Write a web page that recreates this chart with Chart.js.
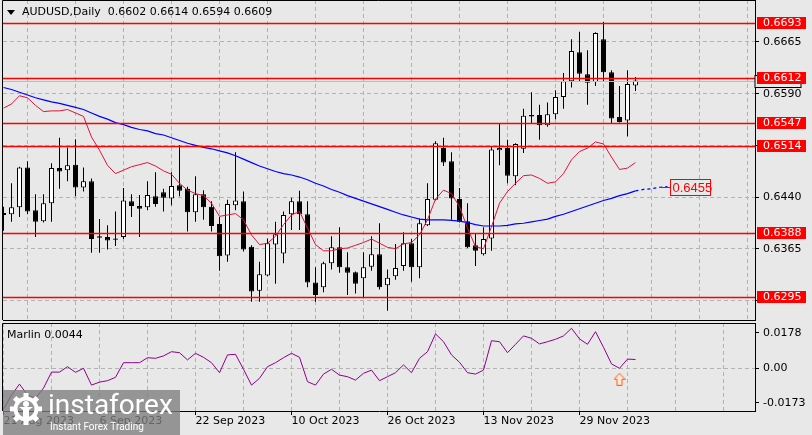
<!DOCTYPE html>
<html>
<head>
<meta charset="utf-8">
<script src="https://cdn.jsdelivr.net/npm/chart.js@4.4.0/dist/chart.umd.min.js"></script>
<style>
  html, body { margin: 0; padding: 0; background: #e8e8e8; }
  #wrap { position: relative; width: 812px; height: 435px; overflow: hidden; background: #e8e8e8; font-family: "DejaVu Sans", sans-serif; }
  #main { position: absolute; left: 0; top: 0; }
  #ind { position: absolute; left: 0; top: 321px; }
  #title { position: absolute; left: 22px; top: 5px; font-size: 11px; color: #000; white-space: pre; }
  #tri { position: absolute; left: 7px; top: 10px; width: 0; height: 0; border-left: 4px solid transparent; border-right: 4px solid transparent; border-top: 5px solid #000; }
  #marlin { position: absolute; left: 7px; top: 328px; font-size: 11px; color: #000; }
  #logo { position: absolute; left: 3px; top: 390px; width: 177px; height: 45px; background: rgba(125,125,125,0.78); }
  #logo svg { position: absolute; left: 3px; top: 2px; }
  #logo .brand { position: absolute; left: 45px; top: -2px; font-family: Roboto, sans-serif; font-size: 28px; color: #fff; }
  #logo .tag { position: absolute; left: 47px; top: 31px; font-family: Roboto, sans-serif; font-size: 10px; color: #fff; }
</style>
</head>
<body>
<div id="wrap">
  <canvas id="main" width="812" height="321"></canvas>
  <canvas id="ind" width="812" height="114"></canvas>
  <div id="tri"></div>
  <div id="title">AUDUSD,Daily  0.6602 0.6614 0.6594 0.6609</div>
  <div id="marlin">Marlin 0.0044</div>
  <div id="logo">
    <svg width="40" height="34" viewBox="0 0 40 34">
      <g fill="#fff" transform="translate(20 17)">
        <rect x="-2.5" y="-16" width="5" height="6"/>
        <rect x="-2.5" y="-16" width="5" height="6" transform="rotate(45)"/>
        <rect x="-2.5" y="-16" width="5" height="6" transform="rotate(90)"/>
        <rect x="-2.5" y="-16" width="5" height="6" transform="rotate(135)"/>
        <rect x="-2.5" y="-16" width="5" height="6" transform="rotate(180)"/>
        <rect x="-2.5" y="-16" width="5" height="6" transform="rotate(225)"/>
        <rect x="-2.5" y="-16" width="5" height="6" transform="rotate(270)"/>
        <rect x="-2.5" y="-16" width="5" height="6" transform="rotate(315)"/>
      </g>
      <circle cx="20" cy="17" r="10.5" fill="none" stroke="#fff" stroke-width="4"/>
      <circle cx="20" cy="12" r="3" fill="#fff"/>
      <path d="M13 15 L27 15 L23 18 L23 27 L17 27 L17 18 Z" fill="#fff"/>
    </svg>
    <span class="brand">instaforex</span>
    <span class="tag">Instant Forex Trading</span>
  </div>
</div>
<script>
// daily candles, 21 Aug 2023 .. 8 Dec 2023
const opens  = [0.6414,0.6415,0.6425,0.6483,0.6421,0.6405,0.6431,0.6482,0.6479,0.6487,
                0.6454,0.6463,0.6383,0.6382,0.6380,0.6382,0.6434,0.6427,0.6425,0.6441,
                0.6447,0.6438,0.6457,0.6452,0.6418,0.6444,0.6426,0.6401,0.6355,0.6428,
                0.6434,0.6368,0.6304,0.6326,0.6371,0.6358,0.6415,0.6434,0.6415,0.6316,
                0.6309,0.6344,0.6367,0.6338,0.6331,0.6322,0.6339,0.6357,0.6312,0.6325,
                0.6340,0.6373,0.6338,0.6399,0.6436,0.6511,0.6492,0.6437,0.6405,0.6370,
                0.6357,0.6380,0.6508,0.6511,0.6470,0.6510,0.6559,0.6559,0.6544,0.6560,
                0.6585,0.6608,0.6650,0.6618,0.6607,0.6669,0.6621,0.6556,0.6551,0.6602];
const highs  = [0.6426,0.6460,0.6484,0.6492,0.6444,0.6444,0.6489,0.6526,0.6512,0.6524,
                0.6483,0.6467,0.6408,0.6399,0.6419,0.6453,0.6444,0.6443,0.6463,0.6476,
                0.6452,0.6476,0.6515,0.6455,0.6470,0.6450,0.6434,0.6411,0.6436,0.6505,
                0.6448,0.6370,0.6346,0.6380,0.6404,0.6419,0.6439,0.6449,0.6434,0.6338,
                0.6346,0.6383,0.6396,0.6360,0.6332,0.6360,0.6383,0.6402,0.6335,0.6372,
                0.6389,0.6379,0.6409,0.6460,0.6521,0.6526,0.6505,0.6453,0.6431,0.6387,
                0.6396,0.6514,0.6546,0.6523,0.6518,0.6568,0.6592,0.6574,0.6577,0.6595,
                0.6620,0.6669,0.6680,0.6653,0.6679,0.6694,0.6624,0.6601,0.6624,0.6614];
const lows   = [0.6391,0.6404,0.6411,0.6415,0.6382,0.6403,0.6404,0.6452,0.6463,0.6441,
                0.6448,0.6359,0.6359,0.6364,0.6369,0.6379,0.6411,0.6382,0.6421,0.6426,
                0.6419,0.6428,0.6441,0.6390,0.6404,0.6407,0.6390,0.6333,0.6346,0.6421,
                0.6361,0.6288,0.6288,0.6325,0.6314,0.6344,0.6392,0.6392,0.6309,0.6288,
                0.6302,0.6335,0.6330,0.6298,0.6300,0.6293,0.6333,0.6306,0.6275,0.6320,
                0.6333,0.6317,0.6322,0.6398,0.6435,0.6485,0.6407,0.6403,0.6366,0.6340,
                0.6355,0.6362,0.6486,0.6460,0.6457,0.6504,0.6546,0.6523,0.6542,0.6553,
                0.6568,0.6599,0.6607,0.6574,0.6601,0.6607,0.6547,0.6548,0.6528,0.6594];
const closes = [0.6417,0.6425,0.6483,0.6419,0.6404,0.6431,0.6482,0.6477,0.6486,0.6454,
                0.6463,0.6379,0.6381,0.6377,0.6378,0.6435,0.6427,0.6423,0.6443,0.6430,
                0.6439,0.6456,0.6449,0.6418,0.6444,0.6425,0.6398,0.6354,0.6430,0.6435,
                0.6364,0.6303,0.6328,0.6373,0.6386,0.6414,0.6434,0.6415,0.6316,0.6298,
                0.6344,0.6367,0.6338,0.6330,0.6314,0.6338,0.6357,0.6309,0.6323,0.6337,
                0.6373,0.6338,0.6402,0.6437,0.6518,0.6490,0.6438,0.6404,0.6367,0.6362,
                0.6379,0.6509,0.6511,0.6471,0.6517,0.6558,0.6557,0.6544,0.6560,0.6585,
                0.6608,0.6652,0.6619,0.6606,0.6678,0.6621,0.6554,0.6549,0.6604,0.6609];

// red and blue moving averages
const maFast = [0.6569,0.6575,0.6587,0.6584,0.6573,0.6564,0.6565,0.6565,0.6567,0.6562,
                0.6557,0.6527,0.6508,0.6486,0.6474,0.6479,0.6484,0.6487,0.6490,0.6485,
                0.6478,0.6473,0.6460,0.6450,0.6445,0.6442,0.6431,0.6412,0.6414,0.6416,
                0.6407,0.6385,0.6371,0.6373,0.6383,0.6400,0.6414,0.6419,0.6395,0.6371,
                0.6362,0.6362,0.6365,0.6366,0.6370,0.6374,0.6379,0.6373,0.6367,0.6365,
                0.6372,0.6374,0.6385,0.6407,0.6437,0.6450,0.6445,0.6426,0.6395,0.6368,
                0.6365,0.6397,0.6431,0.6448,0.6460,0.6471,0.6472,0.6467,0.6460,0.6462,
                0.6474,0.6494,0.6506,0.6511,0.6520,0.6517,0.6498,0.6480,0.6482,0.6490];
const maSlow = [0.6599,0.6596,0.6592,0.6588,0.6584,0.6581,0.6578,0.6576,0.6573,0.6570,
                0.6567,0.6562,0.6557,0.6553,0.6548,0.6545,0.6541,0.6538,0.6536,0.6532,
                0.6530,0.6526,0.6522,0.6518,0.6515,0.6512,0.6510,0.6507,0.6504,0.6500,
                0.6495,0.6490,0.6485,0.6481,0.6477,0.6474,0.6472,0.6469,0.6465,0.6460,
                0.6456,0.6451,0.6447,0.6442,0.6438,0.6434,0.6430,0.6426,0.6422,0.6418,
                0.6414,0.6411,0.6408,0.6407,0.6407,0.6407,0.6406,0.6405,0.6403,0.6400,
                0.6398,0.6398,0.6398,0.6399,0.6401,0.6402,0.6404,0.6406,0.6408,0.6412,
                0.6415,0.6419,0.6423,0.6427,0.6431,0.6435,0.6438,0.6442,0.6445,0.6449];
const maSlowProj = [0.6449,0.6451,0.6452,0.6454,0.6455];
const projLabel = 0.6455;

// Marlin oscillator
const marlin = [-0.0204,-0.0134,-0.0079,-0.0134,-0.0149,-0.0099,-0.0019,-0.0019,0.0008,-0.0020,
                 0.0000,-0.0084,-0.0069,-0.0062,-0.0045,0.0028,0.0028,0.0028,0.0053,0.0050,
                 0.0062,0.0083,0.0078,0.0042,0.0075,0.0055,0.0028,-0.0022,0.0067,0.0070,
                -0.0005,-0.0084,-0.0050,0.0008,0.0028,0.0053,0.0075,0.0055,-0.0067,-0.0084,
                -0.0029,-0.0005,-0.0034,-0.0042,-0.0059,-0.0025,-0.0009,-0.0062,-0.0042,-0.0022,
                 0.0017,-0.0022,0.0050,0.0083,0.0172,0.0133,0.0067,0.0030,-0.0022,-0.0029,
                -0.0009,0.0138,0.0133,0.0078,0.0120,0.0162,0.0150,0.0122,0.0133,0.0145,
                 0.0162,0.0200,0.0147,0.0120,0.0183,0.0105,0.0022,0.0000,0.0046,0.0044];
const signalBar = 77;
const signalValue = -0.0055;

const priceTicks = [0.6665, 0.6590, 0.6515, 0.6440, 0.6365, 0.6290];
const levels = [0.6693, 0.6612, 0.6547, 0.6514, 0.6388, 0.6295];
const lastPrice = 0.6609;
const marlinTicks = [0.0178, 0, -0.0173];
const dateLabels = ['21 Aug 2023', '6 Sep 2023', '22 Sep 2023', '10 Oct 2023', '26 Oct 2023', '13 Nov 2023', '29 Nov 2023'];

const xMin = -0.0625, xMax = 93.9375;   // 8 px per bar
const gridBars = [];
for (let b = 0; b <= 90; b += 6) gridBars.push(b);
const idx = opens.map((_, i) => i);
const FONT = { family: 'DejaVu Sans', size: 11 };
const GRID = '#b3b3b3';

Chart.defaults.font.family = 'DejaVu Sans';

function hline(ctx, x1, x2, y) {
    ctx.beginPath();
    ctx.moveTo(x1, y);
    ctx.lineTo(x2, y);
    ctx.stroke();
}

// y axis on the right with fixed width and no extra padding
function fixY(s) {
    s.width = 57;
    s.paddingTop = 0;
    s.paddingBottom = 0;
}

// left / top frame of a pane
const frame = {
    id: 'frame',
    afterDraw(chart) {
        const { ctx, chartArea: a } = chart;
        ctx.save();
        ctx.strokeStyle = '#000';
        ctx.lineWidth = 1;
        ctx.beginPath();
        ctx.moveTo(a.left - 0.5, a.bottom);
        ctx.lineTo(a.left - 0.5, a.top + 0.5);
        ctx.lineTo(a.right, a.top + 0.5);
        ctx.stroke();
        ctx.restore();
    }
};

const priceOverlay = {
    id: 'priceOverlay',
    afterDatasetsDraw(chart) {
        const { ctx, chartArea: a, scales: { x, y } } = chart;
        ctx.save();
        ctx.lineWidth = 1;
        ctx.strokeStyle = '#bdbdbd';
        hline(ctx, a.left, a.right, Math.round(y.getPixelForValue(lastPrice)) + 0.5);
        ctx.strokeStyle = '#ff0000';
        ctx.lineWidth = 1.3;
        levels.forEach(v => hline(ctx, a.left, a.right, Math.round(y.getPixelForValue(v)) + 0.5));

        // projected value label of the blue line
        ctx.lineWidth = 1;
        const py = Math.round(y.getPixelForValue(projLabel)) + 0.5;
        const bx = Math.round(x.getPixelForValue(83.3)) + 0.5;
        hline(ctx, x.getPixelForValue(82), bx, py);
        ctx.fillStyle = '#e8e8e8';
        ctx.fillRect(bx, py - 8, 40, 16);
        ctx.strokeRect(bx, py - 8, 40, 16);
        ctx.fillStyle = '#ff0000';
        ctx.font = '13px "Liberation Sans"';
        ctx.textBaseline = 'middle';
        ctx.fillText(projLabel.toFixed(4), bx + 2, py + 1);
        ctx.restore();
    },
    afterDraw(chart) {
        const { ctx, chartArea: a, scales: { y } } = chart;
        ctx.save();
        ctx.font = '11px "DejaVu Sans"';
        ctx.textBaseline = 'middle';
        // bid box, mostly hidden behind the level box
        const bp = Math.round(y.getPixelForValue(lastPrice)) + 0.5;
        ctx.fillStyle = '#e8e8e8';
        ctx.strokeStyle = '#000';
        ctx.fillRect(a.right, bp - 6, 46, 12);
        ctx.strokeRect(a.right, bp - 6, 46, 12);
        levels.forEach(v => {
            const p = Math.round(y.getPixelForValue(v));
            ctx.fillStyle = '#ff0000';
            ctx.fillRect(a.right + 2, p - 6, 49, 12);
            ctx.fillStyle = '#fff';
            ctx.fillText(v.toFixed(4), a.right + 8, p + 0.5);
        });
        ctx.restore();
    }
};

const bodyColors = idx.map(i => closes[i] >= opens[i] ? '#ffffff' : '#000000');

new Chart(document.getElementById('main'), {
    type: 'bar',
    data: {
        datasets: [
            {
                type: 'line',
                data: idx.map(i => ({ x: i, y: maFast[i] })),
                borderColor: '#dc143c',
                borderWidth: 1,
                pointRadius: 0,
                order: 0,
            },
            {
                type: 'line',
                data: idx.map(i => ({ x: i, y: maSlow[i] })),
                borderColor: '#0000ff',
                borderWidth: 1.2,
                pointRadius: 0,
                order: 0,
            },
            {
                type: 'line',
                data: maSlowProj.map((v, k) => ({ x: opens.length - 1 + k, y: v })),
                borderColor: '#0000ff',
                borderWidth: 1.2,
                borderDash: [3, 3],
                pointRadius: 0,
                order: 0,
            },
            {
                data: idx.map(i => ({ x: i, y: [opens[i], closes[i]] })),
                backgroundColor: bodyColors,
                borderColor: '#000',
                borderWidth: 1,
                borderSkipped: false,
                barThickness: 5,
                minBarLength: 1,
                grouped: false,
                inflateAmount: 0,
                order: 1,
            },
            {
                data: idx.map(i => ({ x: i, y: [lows[i], highs[i]] })),
                backgroundColor: '#000',
                borderWidth: 0,
                barThickness: 1,
                grouped: false,
                inflateAmount: 0,
                order: 2,
            },
        ],
    },
    options: {
        responsive: false,
        animation: false,
        devicePixelRatio: 1,
        layout: { padding: { left: 3, top: 0, right: 0, bottom: 0 }, autoPadding: false },
        plugins: { legend: { display: false }, tooltip: { enabled: false } },
        scales: {
            x: {
                type: 'linear',
                min: xMin,
                max: xMax,
                offset: false,
                afterBuildTicks: s => { s.ticks = gridBars.map(v => ({ value: v })); },
                afterFit: s => { s.height = 1; s.paddingLeft = 0; s.paddingRight = 0; },
                ticks: { display: false },
                grid: { color: GRID, drawTicks: false },
                border: { color: '#000', dash: [4, 3] },
            },
            y: {
                position: 'right',
                min: 0.626158,
                max: 0.67259,
                afterBuildTicks: s => { s.ticks = priceTicks.map(v => ({ value: v })); },
                afterFit: fixY,
                ticks: { color: '#000', font: FONT, padding: 4, autoSkip: false, callback: v => v.toFixed(4) },
                grid: { color: GRID, tickColor: '#000', tickLength: 4 },
                border: { color: '#000', dash: [4, 3] },
            },
        },
    },
    plugins: [priceOverlay, frame],
});

// hollow up arrow used as the signal marker
const arrowImg = document.createElement('canvas');
arrowImg.width = 12;
arrowImg.height = 13;
const g = arrowImg.getContext('2d');
g.beginPath();
g.moveTo(6, 0.5); g.lineTo(11.5, 6.5); g.lineTo(8.5, 6.5); g.lineTo(8.5, 12.5);
g.lineTo(3.5, 12.5); g.lineTo(3.5, 6.5); g.lineTo(0.5, 6.5); g.closePath();
g.fillStyle = '#ffe9d6';
g.fill();
g.strokeStyle = '#ff5a1e';
g.lineWidth = 1;
g.stroke();

const labelAt = v => (v % 12 === 0 && v / 12 < dateLabels.length) ? dateLabels[v / 12] : '';

new Chart(document.getElementById('ind'), {
    type: 'line',
    data: {
        datasets: [
            {
                data: idx.map(i => ({ x: i, y: marlin[i] })),
                borderColor: '#8b008b',
                borderWidth: 1,
                pointRadius: 0,
            },
            {
                data: [{ x: signalBar, y: signalValue }],
                showLine: false,
                pointStyle: arrowImg,
                pointRadius: 6,
            },
        ],
    },
    options: {
        responsive: false,
        animation: false,
        devicePixelRatio: 1,
        layout: { padding: { left: 3, top: 2, right: 0, bottom: 0 }, autoPadding: false },
        plugins: { legend: { display: false }, tooltip: { enabled: false } },
        scales: {
            x: {
                type: 'linear',
                min: xMin,
                max: xMax,
                afterBuildTicks: s => { s.ticks = gridBars.map(v => ({ value: v })); },
                afterFit: s => { s.height = 24; s.paddingLeft = 0; s.paddingRight = 0; },
                ticks: { color: '#000', font: FONT, padding: 0, align: 'start', maxRotation: 0, autoSkip: false, callback: v => labelAt(v) },
                grid: {
                    color: GRID,
                    tickLength: 4,
                    tickColor: c => labelAt(c.tick.value) ? '#000' : 'rgba(0,0,0,0)',
                },
                border: { color: '#000', dash: [4, 3] },
            },
            y: {
                position: 'right',
                min: -0.02135,
                max: 0.02265,
                afterBuildTicks: s => { s.ticks = marlinTicks.map(v => ({ value: v })); },
                afterFit: fixY,
                ticks: { color: '#000', font: FONT, padding: 4, autoSkip: false, callback: v => v === 0 ? '0.00' : v.toFixed(4) },
                grid: { color: c => c.tick.value === 0 ? GRID : 'rgba(0,0,0,0)', tickColor: '#000', tickLength: 4 },
                border: { color: '#000', dash: [4, 3] },
            },
        },
    },
    plugins: [frame],
});
</script>
</body>
</html>
